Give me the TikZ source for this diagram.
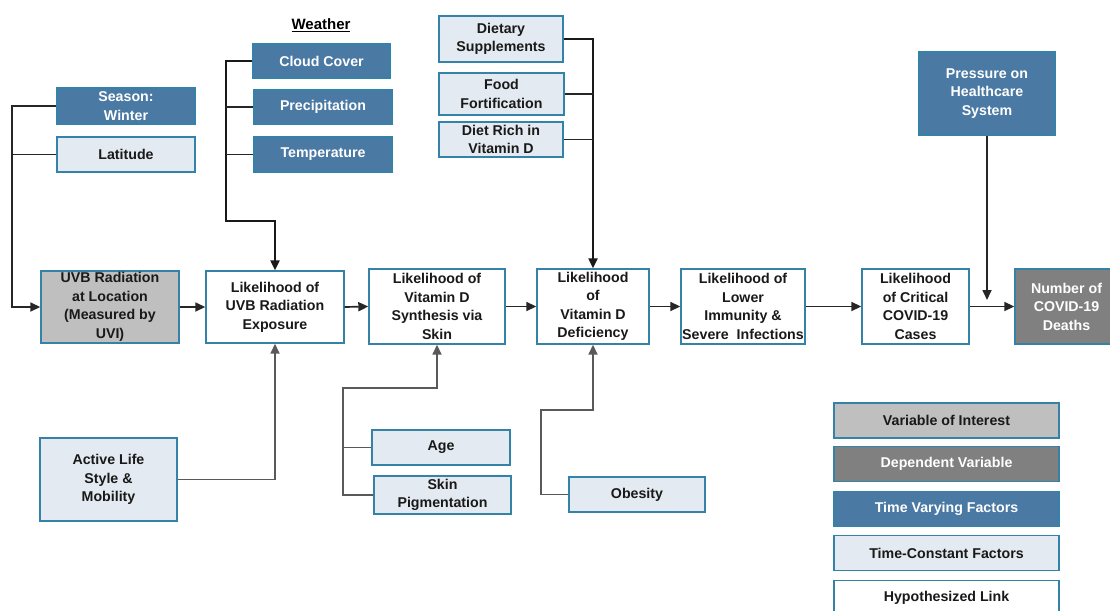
\documentclass[tikz,border=0pt]{standalone}
\usepackage{fontspec}
\setmainfont{Liberation Sans}
\usepackage{xcolor}
\usetikzlibrary{arrows.meta}

\definecolor{edgeblue}{RGB}{52,130,168}
\definecolor{tvblue}{RGB}{74,121,164}
\definecolor{tcpale}{RGB}{228,234,241}
\definecolor{voigray}{RGB}{191,191,191}
\definecolor{depgray}{RGB}{128,128,128}

\begin{document}
\begin{tikzpicture}[x=1pt,y=-1pt,
  basebox/.style={draw=edgeblue, line width=1.4pt, align=center, inner sep=0pt,
    font=\fontsize{14.2}{18.5}\selectfont\bfseries},
  hypbox/.style={basebox, fill=white, text=black!90},
  tcbox/.style={basebox, fill=tcpale, text=black!90},
  tvbox/.style={basebox, fill=tvblue, text=white},
  voibox/.style={basebox, fill=voigray, text=black!90},
  depbox/.style={basebox, fill=depgray, text=white},
  conn/.style={line width=1.7pt, color=black!85},
  thickconn/.style={line width=2.2pt, color=black!90},
  softconn/.style={line width=1.7pt, color=black!65},
  arr/.style={-{Triangle[length=10pt,width=9pt]}}]
  \useasboundingbox (0,0) rectangle (1110,610);

  % top factors
  \node[tvbox, minimum width=138, minimum height=36] (season) at (126,106) {Season:\\Winter};
  \node[tcbox, minimum width=138, minimum height=35] (latitude) at (126,154.5) {Latitude};
  \node[font=\fontsize{15}{18}\selectfont\bfseries] (weather) at (321,25) {\underline{Weather}};
  \node[tvbox, minimum width=137, minimum height=34] (cloud) at (321.5,61) {Cloud Cover};
  \node[tvbox, minimum width=138, minimum height=34] (precip) at (323,107) {Precipitation};
  \node[tvbox, minimum width=138, minimum height=35] (temp) at (323,154.5) {Temperature};
  \node[tcbox, minimum width=124, minimum height=46] (dietsup) at (501,39) {Dietary\\Supplements};
  \node[tcbox, minimum width=125, minimum height=42] (foodfort) at (501.5,94) {Food\\Fortification};
  \node[tcbox, minimum width=124, minimum height=35] (dietrich) at (501,139.5) {Diet Rich in\\Vitamin D};
  \node[tvbox, minimum width=136, minimum height=83] (pressure) at (987,93.5) {Pressure on\\Healthcare\\System};

  % main chain
  \node[voibox, minimum width=138, minimum height=72] (uvb) at (110,307) {UVB Radiation\\at Location\\(Measured by\\UVI)};
  \node[hypbox, minimum width=138, minimum height=72] (exposure) at (275,307) {Likelihood of\\UVB Radiation\\Exposure};
  \node[hypbox, minimum width=136, minimum height=75] (synthesis) at (437,306.5) {Likelihood of\\Vitamin D\\Synthesis via\\Skin};
  \node[hypbox, minimum width=112, minimum height=75] (deficiency) at (593,306.5) {Likelihood\\of\\Vitamin D\\Deficiency};
  \node[hypbox, minimum width=124, minimum height=75] (immunity) at (743,306.5) {Likelihood of\\Lower\\Immunity \&\\Severe\ \ Infections};
  \node[hypbox, minimum width=107, minimum height=75] (critical) at (915.5,306.5) {Likelihood\\of Critical\\COVID-19\\Cases};
  \node[depbox, minimum width=103, minimum height=75] (deaths) at (1066.5,306.5) {Number of\\COVID-19\\Deaths};

  % bottom factors
  \node[tcbox, minimum width=137, minimum height=83] (active) at (108.5,479.5) {Active Life\\Style \&\\Mobility};
  \node[tcbox, minimum width=138, minimum height=35] (age) at (441,447.5) {Age};
  \node[tcbox, minimum width=137, minimum height=38] (skin) at (442.5,495) {Skin\\Pigmentation};
  \node[tcbox, minimum width=136, minimum height=35] (obesity) at (637,494.5) {Obesity};

  % legend
  \node[voibox, minimum width=225, minimum height=35] (leg1) at (946.5,420.5) {Variable of Interest};
  \node[depbox, minimum width=225, minimum height=35] (leg2) at (946.5,464) {Dependent Variable};
  \node[tvbox, minimum width=225, minimum height=35] (leg3) at (946.5,509) {Time Varying Factors};
  \node[tcbox, minimum width=225, minimum height=35] (leg4) at (946.5,553) {Time-Constant Factors};
  \node[hypbox, minimum width=225, minimum height=35] (leg5) at (946.5,598) {Hypothesized Link};

  % bend points
  \coordinate (leftbus) at (12,307);
  \coordinate (weatherbus) at (226,221);
  \coordinate (agebus) at (343,388);
  \coordinate (obesitybus) at (541,410);
  \coordinate (pressuretip) at (987,300);

  % links into the chain
  \draw[conn, arr] (season.west) -| (leftbus) -- (uvb.west);
  \draw[conn] (latitude.west) -- (latitude.west -| leftbus);
  \draw[thickconn, arr] (cloud.west) -| (weatherbus) -| (exposure.north);
  \draw[conn] (precip.west) -- (precip.west -| weatherbus);
  \draw[conn] (temp.west) -- (temp.west -| weatherbus);
  \draw[thickconn, arr] (dietsup.east) -| (deficiency.north);
  \draw[conn] (foodfort.east) -- (foodfort.east -| deficiency.north);
  \draw[conn] (dietrich.east) -- (dietrich.east -| deficiency.north);
  \draw[conn, arr] (pressure.south) -- (pressuretip);

  \draw[conn, arr] (uvb.east) -- (exposure.west);
  \draw[conn, arr] (exposure.east) -- (synthesis.west);
  \draw[conn, arr] (synthesis.east) -- (deficiency.west);
  \draw[conn, arr] (deficiency.east) -- (immunity.west);
  \draw[conn, arr] (immunity.east) -- (critical.west);
  \draw[conn, arr] (critical.east) -- (deaths.west);

  \draw[softconn, arr] (active.east) -| (exposure.south);
  \draw[softconn, arr] (skin.west) -| (agebus) -| (synthesis.south);
  \draw[softconn] (age.west) -- (age.west -| agebus);
  \draw[softconn, arr] (obesity.west) -| (obesitybus) -| (deficiency.south);
\end{tikzpicture}
\end{document}
